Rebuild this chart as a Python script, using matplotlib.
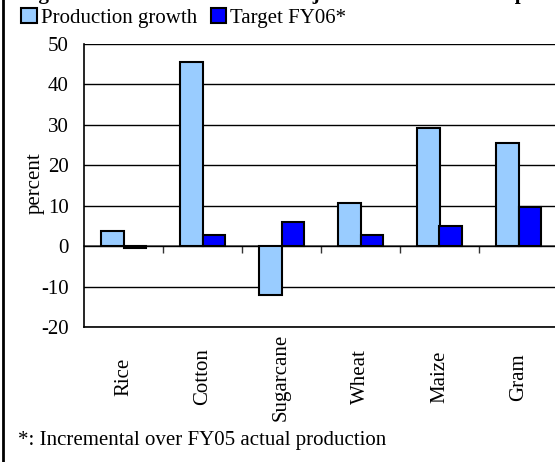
import numpy as np
import matplotlib
matplotlib.use('Agg')
import matplotlib.pyplot as plt
from matplotlib.lines import Line2D

# data
crops = ['Rice', 'Cotton', 'Sugarcane', 'Wheat', 'Maize', 'Gram']
prod_growth = [3.8, 45.5, -12.1, 10.7, 29.3, 25.5]
target_fy06 = [-0.5, 2.8, 6.0, 2.8, 5.1, 9.8]
series_names = ['Production growth', 'Target FY06*']
yticks = [-20, -10, 0, 10, 20, 30, 40, 50]

plt.rcParams['font.family'] = ['Liberation Serif', 'DejaVu Serif']
plt.rcParams['axes.unicode_minus'] = False

W, H = 555, 462
fig = plt.figure(figsize=(W / 100, H / 100), dpi=100)
fig.patch.set_facecolor('white')

# plot box runs a little past the right edge of the picture, like the source
ax = fig.add_axes([84 / W, (H - 327) / H, 474 / W, 283 / H])

x = np.arange(len(crops))
bw = 0.29
ax.bar(x - bw / 2, prod_growth, bw, color='#99CCFF', edgecolor='black', lw=1.5,
       label=series_names[0], zorder=3)
ax.bar(x + bw / 2, target_fy06, bw, color='#0000FF', edgecolor='black', lw=1.5,
       label=series_names[1], zorder=3)

fs = 15
ax.set_xlim(-0.5, len(crops) - 0.5)
ax.set_ylim(yticks[0], yticks[-1])
ax.set_yticks(yticks)
ax.yaxis.grid(True, color='black', lw=1.0)
ax.set_axisbelow(True)
ax.tick_params(axis='y', length=0, pad=11, labelsize=fs)
ax.set_ylabel('percent', fontsize=fs)
ax.yaxis.set_label_coords(-0.082, 0.51)

ax.set_xticks(x)
ax.set_xticklabels(crops, rotation=90, fontsize=fs, va='center')
ax.tick_params(axis='x', length=0, pad=36)

for s in ['top', 'right']:
    ax.spines[s].set_visible(False)
for s in ['left', 'bottom']:
    ax.spines[s].set_linewidth(1.2)

# zero line with small ticks between categories
zero_frac = (0 - yticks[0]) / (yticks[-1] - yticks[0])
sec = ax.secondary_xaxis(zero_frac)
sec.set_xticks(np.arange(len(crops) - 1) + 0.5)
sec.set_xticklabels([])
sec.tick_params(length=5, width=1, color='#333333')
sec.spines['bottom'].set_color('#555555')
sec.spines['bottom'].set_linewidth(1.2)

fig.legend(loc='upper left', bbox_to_anchor=(21 / W, 1 - 8 / H), ncol=2,
           frameon=False, fontsize=fs, handlelength=0.75, handleheight=0.75,
           handletextpad=0.2, columnspacing=0.65, borderpad=0, borderaxespad=0)

# title sits mostly above the picture, only its descenders show (as in the source)
fig.text(20 / W, 1 + 1 / H, 'Figure 2.1: Actual Growth of Major Rabi & Kharif Crops vs Targets',
         fontsize=15, fontweight='bold', va='baseline', ha='left')

fig.text(18 / W, (H - 440) / H, '*: Incremental over FY05 actual production',
         fontsize=fs, va='center', ha='left')

# left frame edge
fig.add_artist(Line2D([2.5 / W, 2.5 / W], [0, 1], transform=fig.transFigure,
                      color='black', lw=2))

fig.savefig('out.png', dpi=100)
